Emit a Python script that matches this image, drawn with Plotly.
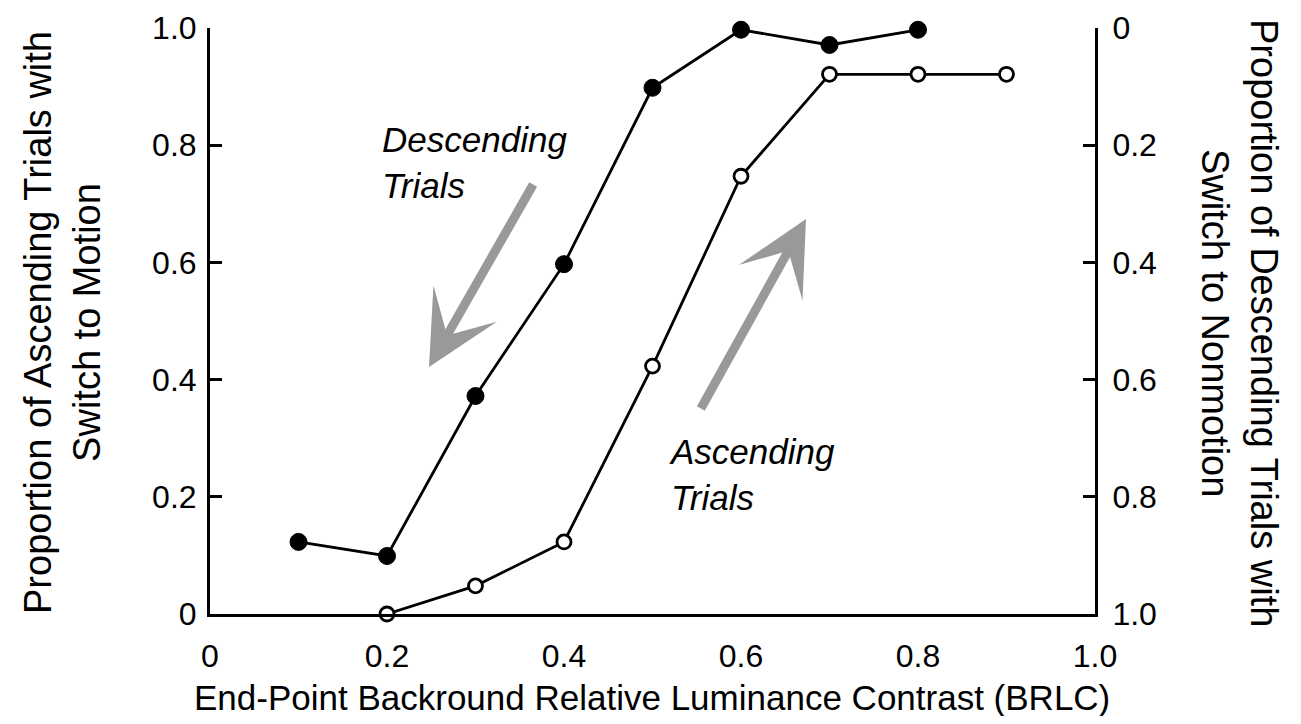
import plotly.graph_objects as go

# Data
brlc_desc = [0.1, 0.2, 0.3, 0.4, 0.5, 0.6, 0.7, 0.8]
# proportion of descending trials with switch to nonmotion (right axis, reversed)
desc_nonmotion = [0.877, 0.901, 0.628, 0.403, 0.102, 0.003, 0.029, 0.003]
brlc_asc = [0.2, 0.3, 0.4, 0.5, 0.6, 0.7, 0.8, 0.9]
# proportion of ascending trials with switch to motion (left axis)
asc_motion = [0.0, 0.048, 0.123, 0.423, 0.747, 0.921, 0.921, 0.921]

x_ticks = [0, 0.2, 0.4, 0.6, 0.8, 1.0]
x_ticklabels = ["0", "0.2", "0.4", "0.6", "0.8", "1.0"]
y_ticks = [0, 0.2, 0.4, 0.6, 0.8, 1.0]
y_ticklabels = ["0", "0.2", "0.4", "0.6", "0.8", "1.0"]

FONT = "Liberation Sans, Arial, sans-serif"
TICK = 32
XTITLE = 35
YTITLE = 38
NOTE = 35

# page has 8px body margin; figure is sized to fit the 1301x724 window
W, H = 1285, 708
fig = go.Figure()
fig.add_trace(go.Scatter(
    x=brlc_desc, y=desc_nonmotion, yaxis="y2", mode="lines+markers",
    line=dict(color="black", width=2.8),
    marker=dict(symbol="circle", size=17, color="black", line=dict(color="black", width=1)),
    cliponaxis=False, showlegend=False, name="Descending"))
fig.add_trace(go.Scatter(
    x=brlc_asc, y=asc_motion, mode="lines+markers",
    line=dict(color="black", width=2.8),
    marker=dict(symbol="circle", size=14, color="white", line=dict(color="black", width=2.8)),
    cliponaxis=False, showlegend=False, name="Ascending"))

fig.update_layout(
    width=W, height=H,
    margin=dict(l=202, r=198, t=20, b=102, autoexpand=False),
    paper_bgcolor="white", plot_bgcolor="white",
    font=dict(family=FONT, color="black", size=TICK),
    xaxis=dict(range=[0, 1], showgrid=False, zeroline=False, showline=True, automargin=False,
               linecolor="black", linewidth=3, ticks="", tickvals=x_ticks,
               ticktext=x_ticklabels, tickfont=dict(size=TICK), ticklabelstandoff=12),
    yaxis=dict(range=[0, 1], showgrid=False, zeroline=False, showline=True, automargin=False,
               linecolor="black", linewidth=3, ticks="inside", ticklen=12,
               tickwidth=3, tickcolor="black", tickvals=y_ticks,
               ticktext=y_ticklabels, tickfont=dict(size=TICK), ticklabelstandoff=4),
    yaxis2=dict(range=[1, 0], overlaying="y", side="right", showgrid=False, automargin=False,
                zeroline=False, showline=True, linecolor="black", linewidth=3,
                ticks="inside", ticklen=12, tickwidth=3, tickcolor="black",
                tickvals=y_ticks, ticktext=y_ticklabels, tickfont=dict(size=TICK),
                ticklabelstandoff=8),
)

def px_x(p):
    return (p - 210) / 885.0

def px_y(p):
    return (614 - p) / 586.0

annotations = [
    dict(x=px_x(429), y=px_y(367), ax=px_x(534), ay=px_y(183), xref="x", yref="y",
         axref="x", ayref="y", text="", showarrow=True, arrowhead=3, arrowsize=1.35,
         arrowwidth=9, arrowcolor="#999999"),
    dict(x=px_x(806), y=px_y(219), ax=px_x(700), ay=px_y(410), xref="x", yref="y",
         axref="x", ayref="y", text="", showarrow=True, arrowhead=3, arrowsize=1.35,
         arrowwidth=9, arrowcolor="#999999"),
    dict(x=px_x(380), y=px_y(162), xref="x", yref="y", xanchor="left",
         yanchor="middle", align="left", showarrow=False,
         text="<i>Descending<br>Trials</i>", font=dict(size=NOTE)),
    dict(x=px_x(667), y=px_y(474), xref="x", yref="y", xanchor="left",
         yanchor="middle", align="left", showarrow=False,
         text="<i>Ascending<br>Trials</i>", font=dict(size=NOTE)),
    dict(x=px_x(62), y=px_y(323), xref="paper", yref="paper", showarrow=False, textangle=-90,
         xanchor="center", yanchor="middle",
         text="Proportion of Ascending Trials with<br>Switch to Motion", font=dict(size=YTITLE)),
    dict(x=px_x(1240), y=px_y(323), xref="paper", yref="paper", showarrow=False, textangle=90,
         xanchor="center", yanchor="middle",
         text="Proportion of Descending Trials with<br>Switch to Nonmotion", font=dict(size=YTITLE)),
    dict(x=px_x(652), y=px_y(697), xref="paper", yref="paper", showarrow=False,
         xanchor="center", yanchor="middle",
         text="End-Point Backround Relative Luminance Contrast (BRLC)", font=dict(size=XTITLE)),
]
fig.update_layout(annotations=annotations)

fig.write_html("out.html")
